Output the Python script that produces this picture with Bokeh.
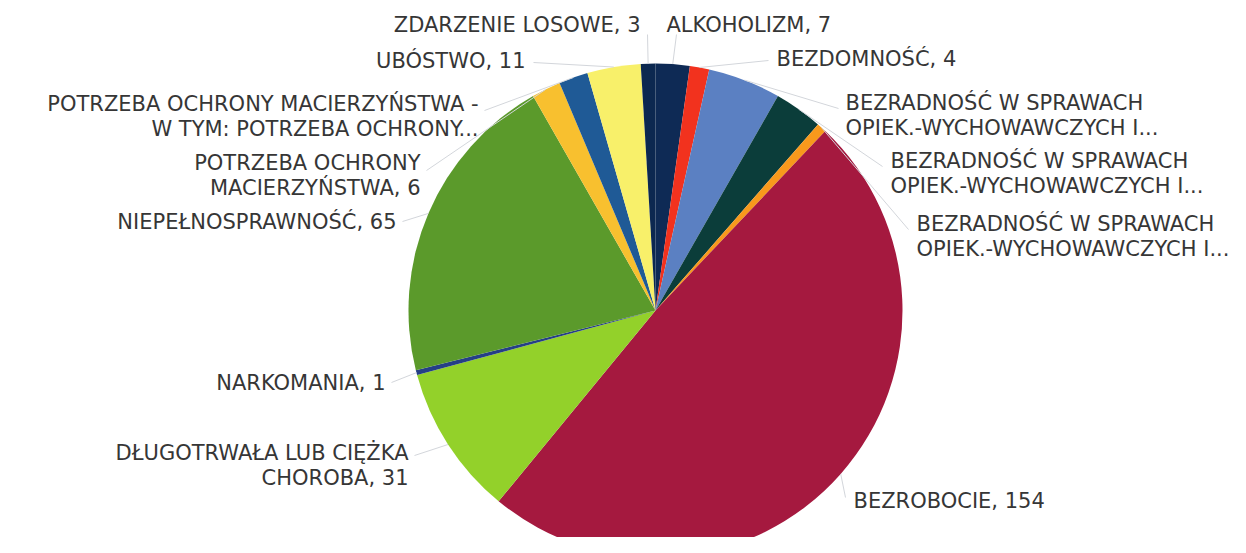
import math
from bokeh.plotting import figure
from bokeh.models import Range1d, ColumnDataSource
from bokeh.core.properties import value
from bokeh.embed import file_html
from bokeh.resources import INLINE

# ---- data (clockwise from 12 o'clock) ----
categories = [
    "ALKOHOLIZM",
    "BEZDOMNOŚĆ",
    "BEZRADNOŚĆ W SPRAWACH\nOPIEK.-WYCHOWAWCZYCH I...",
    "BEZRADNOŚĆ W SPRAWACH\nOPIEK.-WYCHOWAWCZYCH I...",
    "BEZRADNOŚĆ W SPRAWACH\nOPIEK.-WYCHOWAWCZYCH I...",
    "BEZROBOCIE",
    "DŁUGOTRWAŁA LUB CIĘŻKA\nCHOROBA",
    "NARKOMANIA",
    "NIEPEŁNOSPRAWNOŚĆ",
    "POTRZEBA OCHRONY\nMACIERZYŃSTWA",
    "POTRZEBA OCHRONY MACIERZYŃSTWA -\nW TYM: POTRZEBA OCHRONY...",
    "UBÓSTWO",
    "ZDARZENIE LOSOWE",
]
values = [7, 4, 15, 10, 2, 154, 31, 1, 65, 6, 6, 11, 3]
show_value = [True, True, False, False, False, True, True, True, True, True, False, True, True]

# ---- styles / layout ----
colors = ["#0e2a55", "#f2321e", "#5b80c2", "#0b3d3a", "#f8991c", "#a5193f",
          "#93d12a", "#253f86", "#5b9a2b", "#f8c02f", "#1f5a96", "#f8f06a", "#0c2850"]
# label anchor (reference px): x, y of first line, alignment
label_pos = [(666, 24, "left"), (776, 58, "left"), (845, 102, "left"), (890, 160, "left"),
             (916, 223, "left"), (853, 500, "left"), (408, 452, "right"), (385, 382, "right"),
             (396, 221, "right"), (420, 162, "right"), (478, 103, "right"), (525, 60, "right"),
             (640, 24, "right")]
leader_end = [(676, 34), (768, 60), (838, 108), (882, 166), (908, 229), (845, 497),
              (414, 455), (391, 382), (402, 221), (426, 170), (484, 110), (533, 62), (647, 34)]

H = 553
CX, CY, R = 655, 310, 247
LINE_H = 25

def Y(py):
    return H - py

p = figure(width=1230, height=537, output_backend="svg", toolbar_location=None,
           x_range=Range1d(0, 1230), y_range=Range1d(Y(537), Y(0)),
           min_border=0)
p.axis.visible = False
p.grid.visible = False
p.outline_line_color = None
p.background_fill_color = "white"

total = sum(values)
starts, ends, mids = [], [], []
acc = 0.0
for v in values:
    t0 = acc / total * 2 * math.pi
    acc += v
    t1 = acc / total * 2 * math.pi
    starts.append(math.pi / 2 - t1)
    ends.append(math.pi / 2 - t0)
    mids.append((t0 + t1) / 2)

src = ColumnDataSource(dict(x=[CX] * len(values), y=[Y(CY)] * len(values),
                            start=starts, end=ends, color=colors))
p.wedge(x="x", y="y", radius=R, start_angle="start", end_angle="end",
        fill_color="color", line_color=None, source=src)

# leader lines
x0s, y0s, x1s, y1s = [], [], [], []
for m, (ex, ey) in zip(mids, leader_end):
    x0s.append(CX + R * math.sin(m))
    y0s.append(Y(CY - R * math.cos(m)))
    x1s.append(ex)
    y1s.append(Y(ey))
p.segment(x0=x0s, y0=y0s, x1=x1s, y1=y1s, line_color="#d3d6db", line_width=1)

# labels
tx, ty, tt, ta = [], [], [], []
for cat, v, sv, (lx, ly, al) in zip(categories, values, show_value, label_pos):
    text = f"{cat}, {v}" if sv else cat
    for i, line in enumerate(text.split("\n")):
        tx.append(lx)
        ty.append(Y(ly + i * LINE_H))
        tt.append(line)
        ta.append(al)
tsrc = ColumnDataSource(dict(x=tx, y=ty, text=tt, align=ta))
p.text(x="x", y="y", text="text", text_align="align", text_baseline="middle",
       text_font=value("DejaVu Sans"), text_font_size="21px", text_color="#363636",
       source=tsrc)

open("out.html", "w").write(file_html(p, INLINE))
